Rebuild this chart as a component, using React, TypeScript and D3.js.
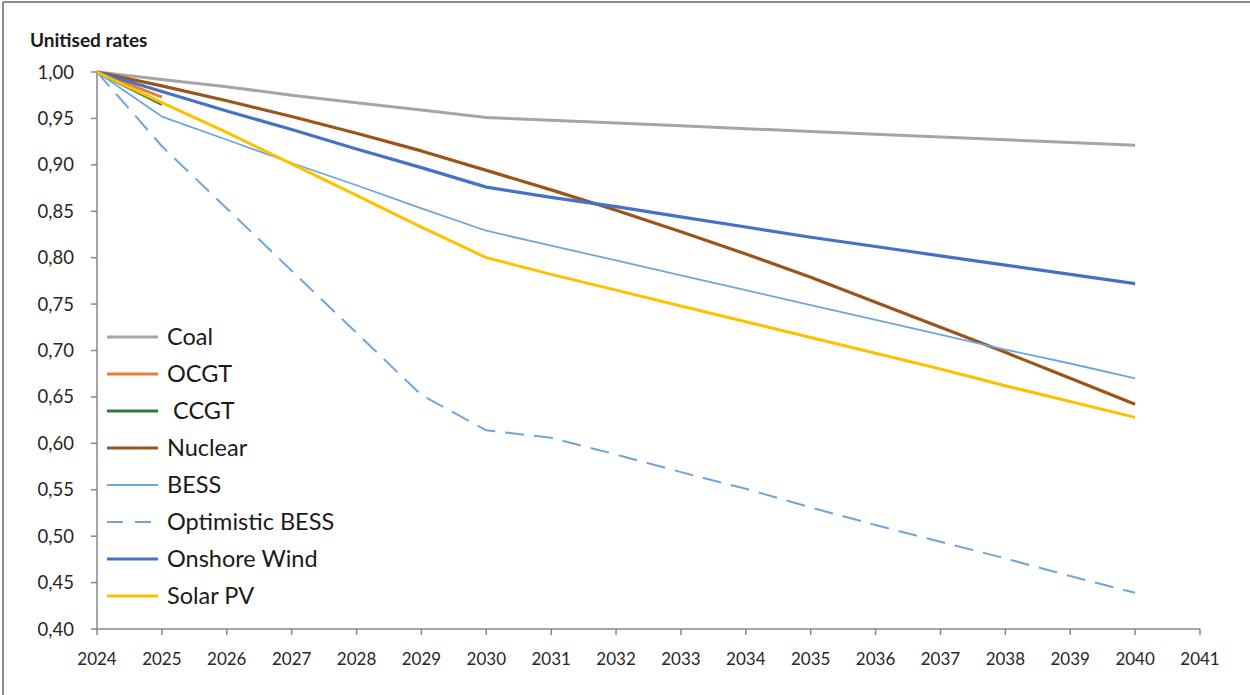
import React from "react";
import * as d3 from "d3";

const years = [2024, 2025, 2026, 2027, 2028, 2029, 2030, 2031, 2032, 2033, 2034, 2035, 2036, 2037, 2038, 2039, 2040];
const xTicks = [2024, 2025, 2026, 2027, 2028, 2029, 2030, 2031, 2032, 2033, 2034, 2035, 2036, 2037, 2038, 2039, 2040, 2041];
const yTicks = [0.4, 0.45, 0.5, 0.55, 0.6, 0.65, 0.7, 0.75, 0.8, 0.85, 0.9, 0.95, 1.0];

const coal = [1.0, 0.992, 0.984, 0.975, 0.967, 0.959, 0.951, 0.948, 0.945, 0.942, 0.939, 0.936, 0.933, 0.93, 0.927, 0.924, 0.921];
const ocgt = [1.0, 0.973];
const ccgt = [1.0, 0.965];
const nuclear = [1.0, 0.985, 0.969, 0.952, 0.934, 0.915, 0.894, 0.873, 0.851, 0.828, 0.804, 0.779, 0.752, 0.725, 0.698, 0.670, 0.642];
const bess = [1.0, 0.952, 0.927, 0.902, 0.878, 0.853, 0.829, 0.813, 0.797, 0.781, 0.765, 0.749, 0.733, 0.717, 0.701, 0.686, 0.670];
const optBess = [1.0, 0.92, 0.853, 0.786, 0.719, 0.652, 0.614, 0.606, 0.588, 0.569, 0.551, 0.531, 0.512, 0.494, 0.476, 0.457, 0.439];
const wind = [1.0, 0.979, 0.958, 0.938, 0.917, 0.897, 0.876, 0.865, 0.855, 0.844, 0.833, 0.822, 0.812, 0.802, 0.792, 0.782, 0.772];
const solar = [1.0, 0.967, 0.935, 0.901, 0.867, 0.833, 0.80, 0.782, 0.765, 0.748, 0.731, 0.714, 0.697, 0.680, 0.662, 0.645, 0.628];

const seriesNames = ["Coal", "OCGT", " CCGT", "Nuclear", "BESS", "Optimistic BESS", "Onshore Wind", "Solar PV"];
const seriesValues = [coal, ocgt, ccgt, nuclear, bess, optBess, wind, solar];
const seriesColors = ["#a5a5a5", "#ed7d31", "#2a7d46", "#9c5418", "#6ea6dc", "#6ea6dc", "#4472c4", "#ffc000"];
const seriesWidths = [3, 3, 3, 3.2, 1.8, 2, 3.2, 3];
const seriesDash = [null, null, null, null, null, "19 10", null, null];

const FONT = "Lato, 'Open Sans', sans-serif";

export default function App() {
  const x = d3.scaleLinear().domain([2024, 2041]).range([97, 1200]);
  const y = d3.scaleLinear().domain([0.4, 1.0]).range([629, 72]);
  const line = d3
    .line<number | null>()
    .defined((d) => d != null)
    .x((_, i) => x(years[i]))
    .y((d) => y(d as number));
  const fmt = (v: number) => v.toFixed(2).replace(".", ",");
  const axisColor = "#878787";

  return (
    <svg
      width={1250}
      height={695}
      style={{ position: "absolute", left: 0, top: 0, background: "#fff", display: "block" }}
      fontFamily={FONT}
    >
      <rect x={0} y={0} width={1250} height={695} fill="#fff" />
      <line x1={3} y1={2} x2={1250} y2={2} stroke="#666" strokeWidth={1.5} />
      <line x1={3} y1={2} x2={3} y2={695} stroke="#666" strokeWidth={1.5} />

      <text x={30} y={47} fontSize={19} fontWeight={700} fill="#1a1a1a">
        Unitised rates
      </text>

      {/* y axis */}
      <line x1={x(2024)} y1={y(1.0)} x2={x(2024)} y2={y(0.4)} stroke={axisColor} strokeWidth={1.5} />
      {yTicks.map((t) => (
        <g key={t}>
          <line x1={x(2024) - 6} x2={x(2024)} y1={y(t)} y2={y(t)} stroke={axisColor} strokeWidth={1.5} />
          <text x={74} y={y(t) + 6.5} textAnchor="end" fontSize={18.5} fill="#262626">
            {fmt(t)}
          </text>
        </g>
      ))}

      {/* x axis */}
      <line x1={x(2024)} y1={y(0.4)} x2={x(2041)} y2={y(0.4)} stroke={axisColor} strokeWidth={1.5} />
      {xTicks.map((t) => (
        <g key={t}>
          <line x1={x(t)} x2={x(t)} y1={y(0.4)} y2={y(0.4) + 6} stroke={axisColor} strokeWidth={1.5} />
          <text x={x(t)} y={665} textAnchor="middle" fontSize={17} fill="#262626">
            {t}
          </text>
        </g>
      ))}

      {/* series */}
      {seriesValues.map((vals, i) => (
        <path
          key={i}
          d={line(vals) || ""}
          fill="none"
          stroke={seriesColors[i]}
          strokeWidth={seriesWidths[i]}
          strokeDasharray={seriesDash[i] || undefined}
          strokeLinejoin="round"
        />
      ))}

      {/* legend */}
      {seriesNames.map((name, i) => {
        const cy = 337 + i * 37;
        return (
          <g key={name}>
            <line
              x1={107}
              x2={158}
              y1={cy}
              y2={cy}
              stroke={seriesColors[i]}
              strokeWidth={seriesWidths[i]}
              strokeDasharray={seriesDash[i] ? "16 12" : undefined}
            />
            <text x={167} y={cy + 8} fontSize={23.5} fill="#1a1a1a" style={{ whiteSpace: "pre" }}>
              {name}
            </text>
          </g>
        );
      })}
    </svg>
  );
}
